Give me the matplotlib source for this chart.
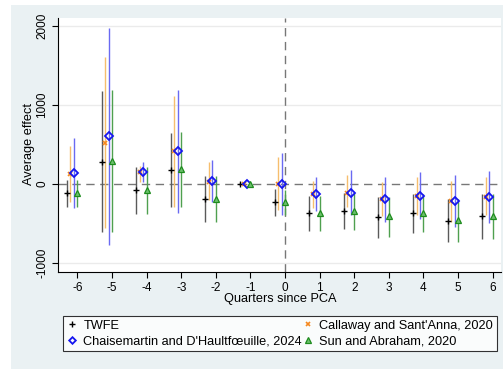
import matplotlib
matplotlib.use("Agg")
import matplotlib.pyplot as plt
from matplotlib.patches import Rectangle
from matplotlib.lines import Line2D
import numpy as np

plt.rcParams['font.family'] = ['Liberation Sans', 'DejaVu Sans']

quarters = [-6, -5, -4, -3, -2, -1, 0, 1, 2, 3, 4, 5, 6]

twfe_est = [-110, 280, -84, 177, -194, 0, -236, -371, -350, -422, -371, -464, -413]
twfe_lo = [-287, -614, -380, -287, -489, 0, -413, -595, -574, -679, -624, -730, -700]
twfe_hi = [50, 1179, 211, 641, 93, 0, -67, -148, -118, -169, -131, -194, -131]

cs_est = [123, 515, 152, 409, 29, 0, 0, -131, -110, -194, -148, -215, -165]
cs_lo = [-230, -565, 29, -287, -203, 0, -329, -308, -287, -413, -392, -477, -392]
cs_hi = [472, 1600, 220, 1105, 274, 0, 338, 38, 114, 29, 84, 38, 84]

dcdh_est = [135, 599, 148, 409, 38, 0, -4, -131, -110, -198, -148, -215, -165]
dcdh_lo = [-305, -772, 21, -363, -224, 0, -392, -342, -392, -477, -447, -548, -498]
dcdh_hi = [580, 1971, 282, 1190, 295, 0, 388, 80, 169, 84, 152, 114, 165]

sa_est = [-110, 289, -76, 186, -194, 0, -224, -363, -342, -413, -363, -456, -405]
sa_lo = [-287, -614, -380, -295, -489, 0, -392, -595, -582, -667, -612, -730, -700]
sa_hi = [50, 1190, 211, 650, 101, 0, -76, -156, -118, -173, -131, -194, -131]

labels = ["TWFE", "Callaway and Sant'Anna, 2020",
          "Chaisemartin and D'Haultfœuille, 2024", "Sun and Abraham, 2020"]

W, H = 503, 369
fig = plt.figure(figsize=(W / 100, H / 100), dpi=100)
fig.patch.set_facecolor('white')
bg = '#EAF1F3'
fig.patches.append(Rectangle((11 / W, 0), 1 - 11 / W, 1 - 5 / H,
                             transform=fig.transFigure, facecolor=bg,
                             edgecolor='none', zorder=-10))

ax = fig.add_axes([58 / W, 1 - 272 / H, (501 - 58) / W, (272 - 17.7) / H])
ax.set_facecolor('white')

q = np.array(quarters, dtype=float)

series = [
    (twfe_est, twfe_lo, twfe_hi, -0.3, dict(marker='+', color='black', ms=5, mew=1.0, mfc='none'), '#5a5a5a'),
    (cs_est, cs_lo, cs_hi, -0.2, dict(marker='x', color='#F5881F', ms=3.5, mew=1.2, mfc='none'), '#F6BE6E'),
    (dcdh_est, dcdh_lo, dcdh_hi, -0.1, dict(marker='D', color='#1515F0', ms=4.5, mew=1.3, mfc='none'), '#6A6AF2'),
    (sa_est, sa_lo, sa_hi, 0.0, dict(marker='^', color='#1E8C1E', ms=5, mew=0.9, mfc='#6CC06C'), '#4FA04F'),
]

handles = []
for est, lo, hi, off, mstyle, cicol in series:
    x = q + off
    ax.vlines(x, lo, hi, colors=cicol, lw=1.0, zorder=2)
    ax.plot(x, est, ls='none', zorder=4, **mstyle)
    h = Line2D([], [], ls='none', marker=mstyle['marker'], color=mstyle['color'],
               ms=mstyle['ms'] * 0.75, mew=mstyle['mew'], mfc=mstyle['mfc'])
    handles.append(h)

ax.axhline(0, color='#777777', ls=(0, (6, 4)), lw=1.0, zorder=1)
ax.axvline(0, color='#777777', ls=(0, (6, 4)), lw=1.0, zorder=1)

ax.set_xlim(-6.56, 6.24)
ax.set_ylim(-1115, 2100)
ax.set_xticks(quarters)
ax.set_xticklabels([str(v) for v in quarters])
ax.set_yticks([-1000, 0, 1000, 2000])
ax.set_yticklabels(['-1000', '0', '1000', '2000'], rotation=90, va='center')
for v in [-1000, 1000, 2000]:
    ax.axhline(v, color='#EBEBEB', lw=1.0, zorder=0)

for s in ['top', 'right']:
    ax.spines[s].set_visible(False)
for s in ['left', 'bottom']:
    ax.spines[s].set_color('black')
    ax.spines[s].set_linewidth(0.8)

ax.tick_params(axis='both', length=4, width=0.8, labelsize=8.5, colors='black')
ax.tick_params(axis='x', pad=3.5)
ax.tick_params(axis='y', pad=3)

fig.text(29 / W, 1 - 144 / H, 'Average effect', rotation=90, ha='center', va='center', fontsize=9.2)
fig.text(280 / W, 1 - 299 / H, 'Quarters since PCA', ha='center', va='center', fontsize=9.2)

order = [0, 2, 1, 3]
leg = fig.legend([handles[i] for i in order], [labels[i] for i in order],
                 ncol=2, loc='center',
                 bbox_to_anchor=(63 / W, 1 - 354 / H, (497 - 63) / W, 41 / H),
                 mode='expand', fontsize=9.2, frameon=True, fancybox=False,
                 edgecolor='black', handlelength=0.8, handletextpad=0.5,
                 borderpad=0.3, labelspacing=0.25, columnspacing=0.5,
                 borderaxespad=0)
leg.get_frame().set_linewidth(0.8)

fig.savefig('out.png', dpi=100, facecolor='white')
